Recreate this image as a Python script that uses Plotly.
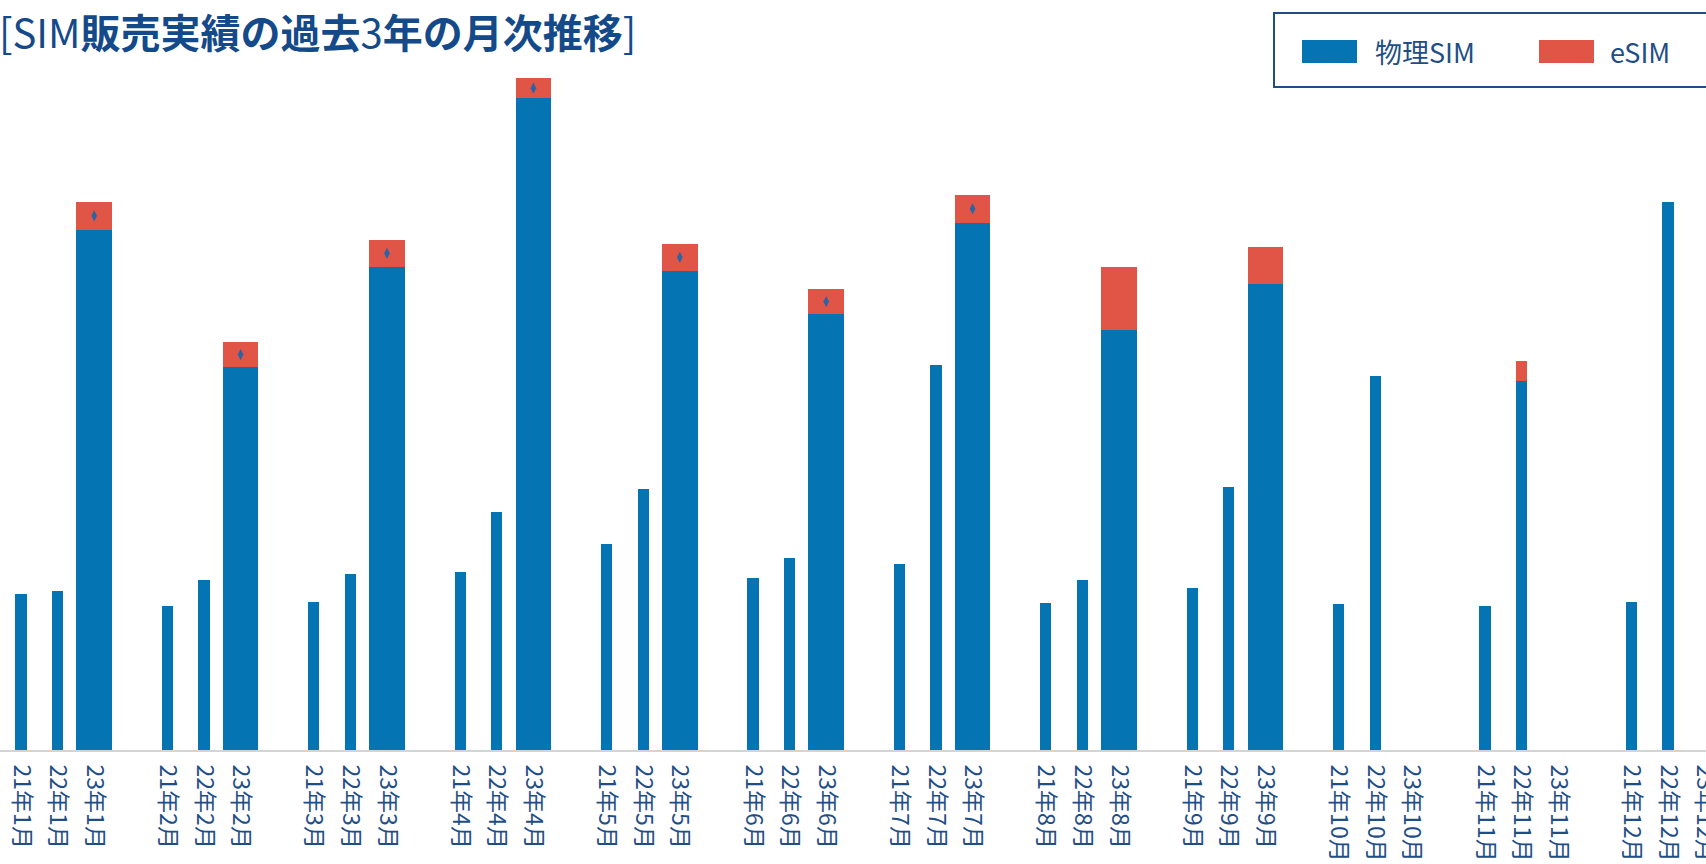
import plotly.graph_objects as go

# ---------------- data ----------------
years = ["21年", "22年", "23年"]
months = ["1月", "2月", "3月", "4月", "5月", "6月", "7月", "8月", "9月", "10月", "11月", "12月"]

physical_21 = [233, 215, 221, 265, 307, 257, 277, 219, 242, 218, 215, 221]
physical_22 = [237, 253, 263, 355, 389, 287, 575, 253, 393, 558, 551, 817]
physical_23 = [776, 571, 721, 973, 715, 650, 787, 627, 696, None, None, None]

esim_21 = [0, 0, 0, 0, 0, 0, 0, 0, 0, 0, 0, 0]
esim_22 = [0, 0, 0, 0, 0, 0, 0, 0, 0, 0, 29, 0]
esim_23 = [42, 38, 40, 29, 40, 38, 41, 94, 55, None, None, None]

# months of 2023 whose eSIM segment carries the small marker glyph
marker_months_23 = ["1月", "2月", "3月", "4月", "5月", "6月", "7月"]

series_names = ["物理SIM", "eSIM"]

# ---------------- layout helpers ----------------
W, H = 1706, 864
PLOT_H = 750
BLUE = "#0474B3"
RED = "#E05546"
TEXT = "#1F4E86"

phys = [physical_21, physical_22, physical_23]
esim = [esim_21, esim_22, esim_23]

xs, widths, pv, ev, labels = [], [], [], [], []
for m, mon in enumerate(months):
    for y, yr in enumerate(years):
        xs.append(4 * m + y)
        widths.append(0.97 if y == 2 else 0.31)
        pv.append(phys[y][m])
        ev.append(esim[y][m] if esim[y][m] else None)
        labels.append(yr + mon)

fig = go.Figure()
fig.add_trace(go.Bar(x=xs, y=pv, width=widths, name=series_names[0],
                     marker=dict(color=BLUE, line=dict(width=0)), showlegend=False))
fig.add_trace(go.Bar(x=xs, y=ev, width=widths, name=series_names[1],
                     marker=dict(color=RED, line=dict(width=0)), showlegend=False))

# small glyphs in the middle of the eSIM segments
mx, my = [], []
for m, mon in enumerate(months):
    if mon in marker_months_23:
        mx.append(4 * m + 2)
        my.append(physical_23[m] + esim_23[m] / 2)
fig.add_trace(go.Scatter(x=mx, y=my, mode="markers", showlegend=False, hoverinfo="skip",
                         marker=dict(symbol="diamond-tall", size=8, color="#2A64A4")))

x0 = -21 / 36.6
x1 = (W - 21) / 36.6
ymax = PLOT_H / (1.5 / 2.238)

fig.update_layout(
    width=W, height=H,
    margin=dict(l=0, r=0, t=0, b=H - PLOT_H, autoexpand=False),
    barmode="stack",
    plot_bgcolor="white", paper_bgcolor="white",
    xaxis=dict(range=[x0, x1], tickmode="array", tickvals=xs, ticktext=labels,
               tickangle=90, showgrid=False, zeroline=False, showline=True,
               linecolor="#D4D4D4", linewidth=2, ticks="", ticklabelstandoff=8,
               ticklabeloverflow="allow", automargin=False,
               tickfont=dict(family="Noto Sans CJK JP", size=23, color=TEXT)),
    yaxis=dict(range=[0, ymax], visible=False, showgrid=False, zeroline=False, automargin=False),
    font=dict(family="Noto Sans CJK JP"),
)

def px(xp):
    return xp / W

def py(yp):
    return 1 - yp / PLOT_H

# title
fig.add_annotation(xref="paper", yref="paper", x=px(-3), y=py(31), xanchor="left", yanchor="middle",
                   showarrow=False,
                   text="[SIM<b>販売実績の過去</b>3<b>年の月次推移</b>]",
                   font=dict(family="Noto Sans CJK JP", size=40, color="#144A8A"))

# legend box (custom)
fig.add_shape(type="rect", xref="paper", yref="paper", x0=px(1274), x1=px(1720),
              y0=py(87), y1=py(13), line=dict(color="#1F4E86", width=2), fillcolor="white")
fig.add_shape(type="rect", xref="paper", yref="paper", x0=px(1302), x1=px(1357),
              y0=py(63), y1=py(40), line=dict(width=0), fillcolor=BLUE)
fig.add_shape(type="rect", xref="paper", yref="paper", x0=px(1539), x1=px(1594),
              y0=py(63), y1=py(40), line=dict(width=0), fillcolor=RED)
fig.add_annotation(xref="paper", yref="paper", x=px(1373), y=py(51), xanchor="left", yanchor="middle",
                   showarrow=False, text=series_names[0],
                   font=dict(family="Noto Sans CJK JP", size=27, color=TEXT))
fig.add_annotation(xref="paper", yref="paper", x=px(1608), y=py(51), xanchor="left", yanchor="middle",
                   showarrow=False, text=series_names[1],
                   font=dict(family="Noto Sans CJK JP", size=27, color=TEXT))

clip_js = """
document.documentElement.style.overflow = 'hidden';
document.body.style.overflow = 'hidden';
document.body.style.margin = '0';
"""

fig.write_html("out.html", post_script=clip_js)
